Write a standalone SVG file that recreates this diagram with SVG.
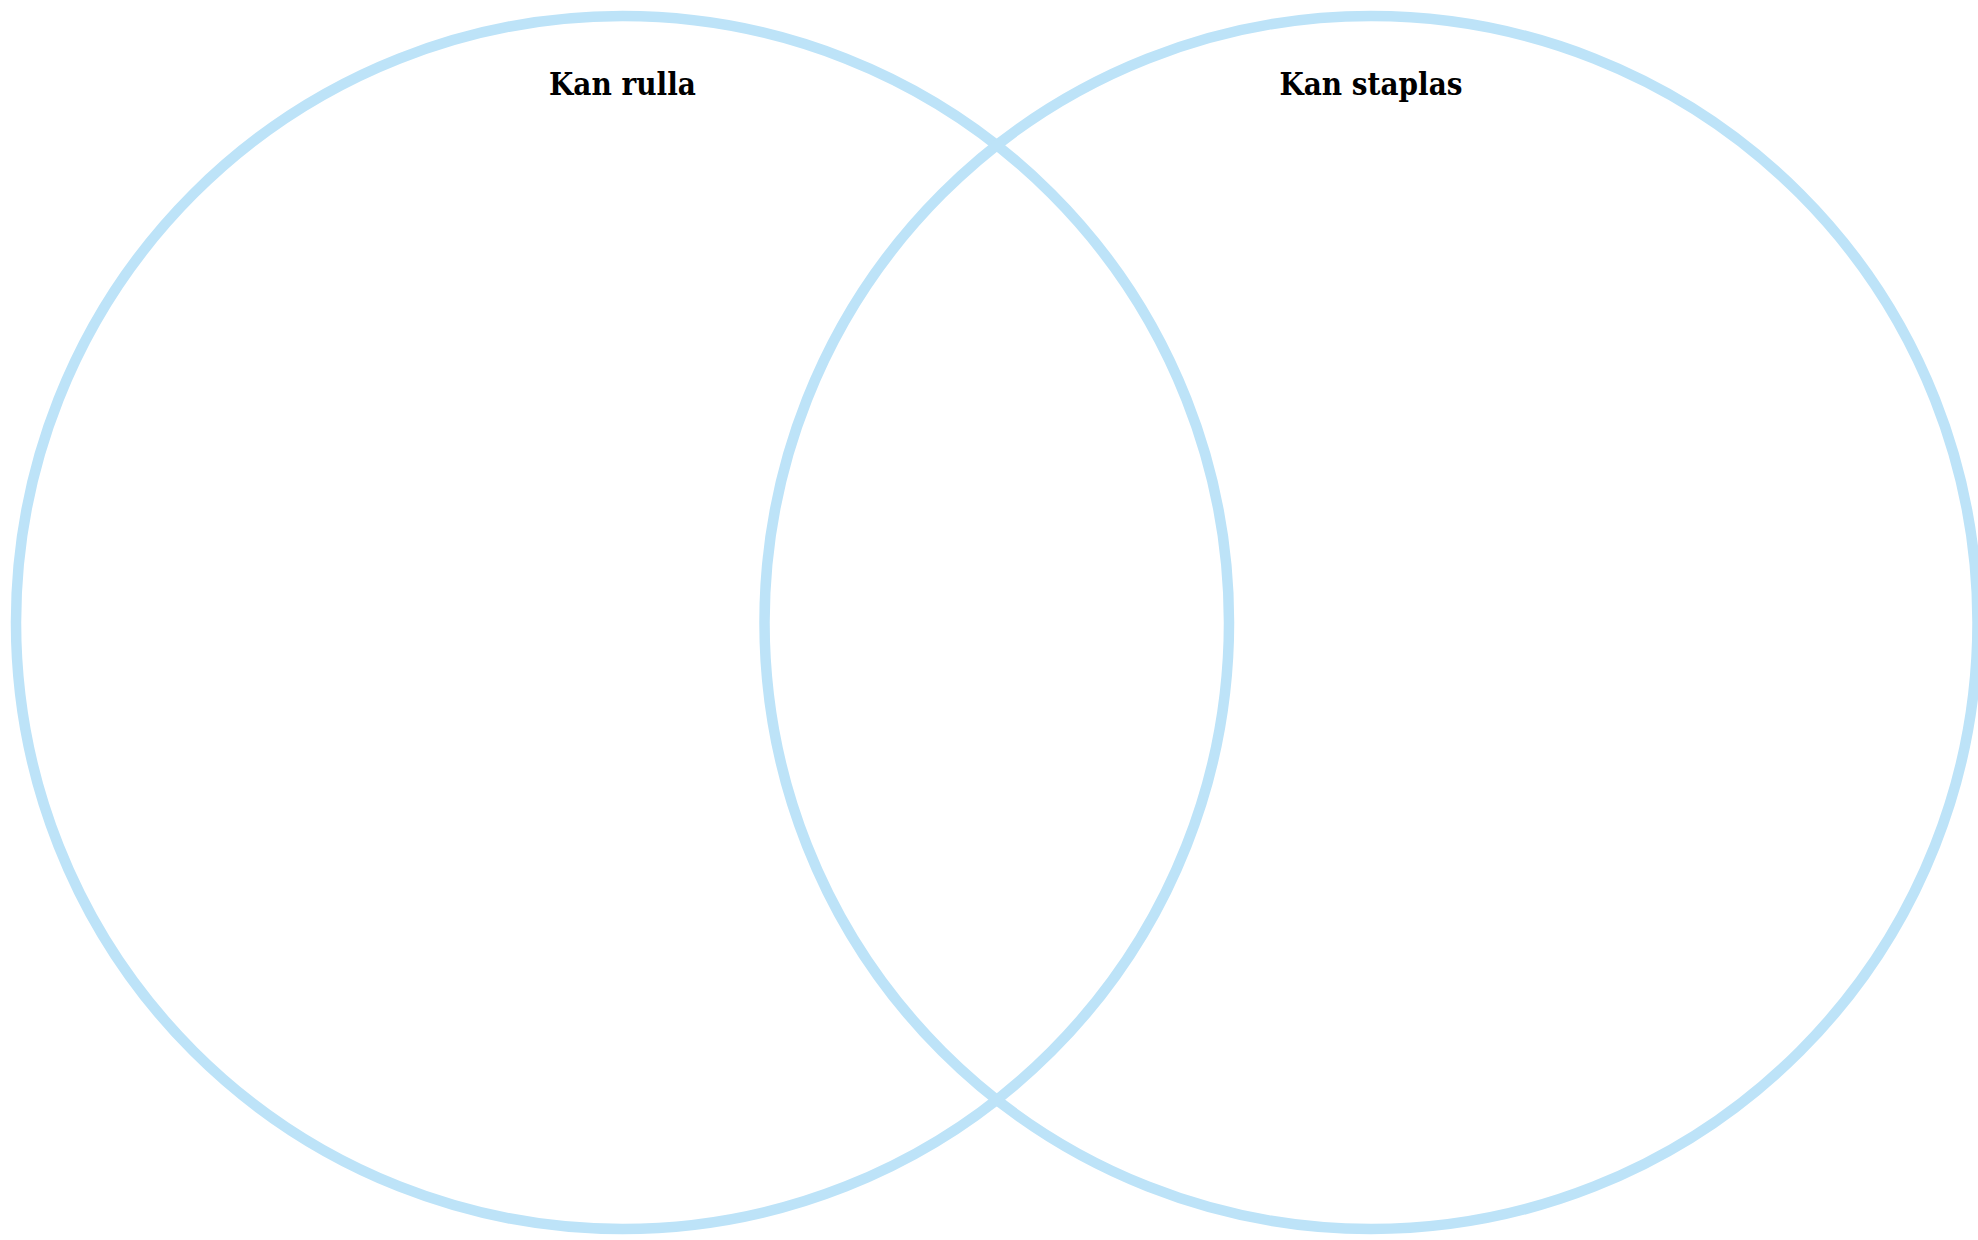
<svg xmlns="http://www.w3.org/2000/svg" width="1978" height="1240" viewBox="0 0 1978 1240">
<style>
.ring{fill:none;stroke:#bde3f8;stroke-width:10.5}
.lbl{font-family:"DejaVu Serif","Liberation Serif",serif;font-weight:bold;font-size:32px;fill:#000;text-anchor:middle}
</style>
<rect width="1978" height="1240" fill="#fff"/>
<g id="set-rulla">
<circle class="ring" cx="622.5" cy="622.5" r="606.5"/>
<text class="lbl" x="622.5" y="95" textLength="147" lengthAdjust="spacingAndGlyphs">Kan rulla</text>
</g>
<g id="set-staplas">
<circle class="ring" cx="1371" cy="622.5" r="606.5"/>
<text class="lbl" x="1371" y="95" textLength="183" lengthAdjust="spacingAndGlyphs">Kan staplas</text>
</g>
<g id="connectors"/>
</svg>
